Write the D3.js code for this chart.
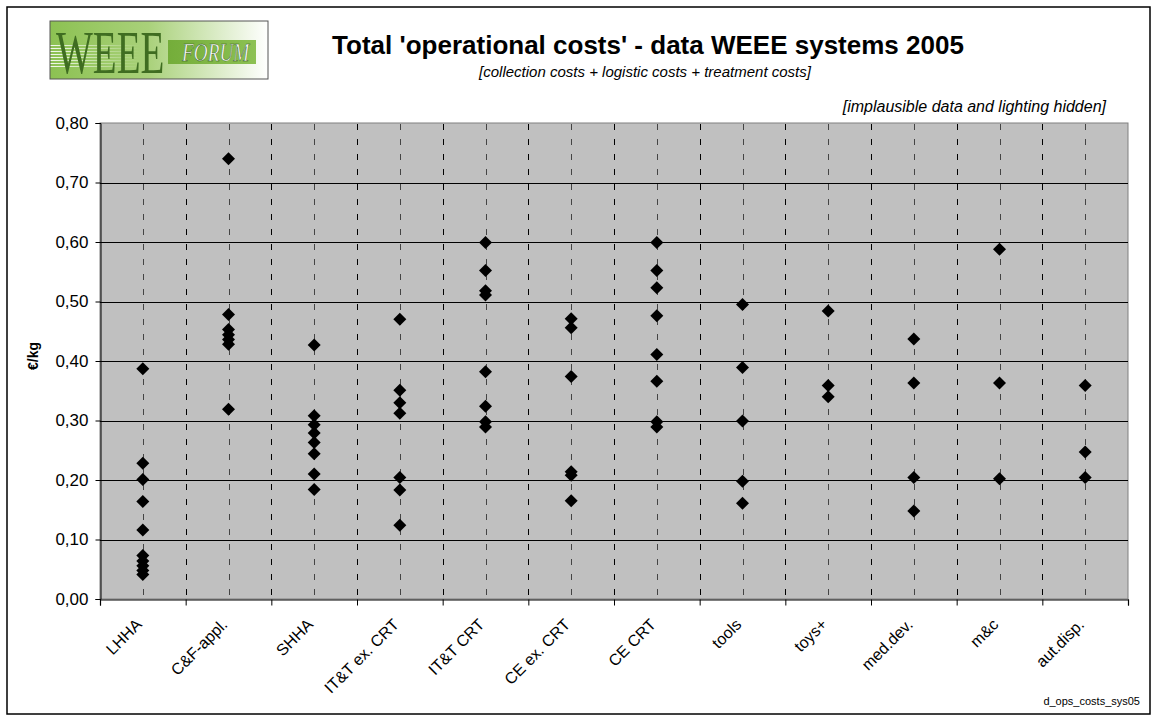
<!DOCTYPE html>
<html>
<head>
<meta charset="utf-8">
<script src="https://cdn.jsdelivr.net/npm/d3@7"></script>
<style>
  body { margin: 0; background: #fff; }
  svg { display: block; font-family: "Liberation Sans", Arial, sans-serif; }
</style>
</head>
<body>
<svg id="chart" width="1157" height="721"></svg>
<script>
// categories on the x axis
var categories = ["LHHA", "C&F-appl.", "SHHA", "IT&T ex. CRT", "IT&T CRT", "CE ex. CRT",
                  "CE CRT", "tools", "toys+", "med.dev.", "m&c", "aut.disp."];

// operational costs (EUR/kg) per system, one list per category
var lhha      = [0.387, 0.228, 0.201, 0.164, 0.116, 0.073, 0.064, 0.056, 0.048, 0.041];
var cfAppl    = [0.740, 0.478, 0.453, 0.444, 0.436, 0.428, 0.319];
var shha      = [0.427, 0.308, 0.293, 0.279, 0.263, 0.244, 0.210, 0.184];
var ittExCrt  = [0.470, 0.351, 0.330, 0.312, 0.204, 0.183, 0.124];
var ittCrt    = [0.599, 0.552, 0.518, 0.511, 0.382, 0.324, 0.298, 0.289];
var ceExCrt   = [0.471, 0.456, 0.374, 0.214, 0.208, 0.165];
var ceCrt     = [0.599, 0.552, 0.523, 0.476, 0.411, 0.366, 0.298, 0.289];
var tools     = [0.495, 0.389, 0.299, 0.198, 0.161];
var toys      = [0.484, 0.359, 0.340];
var medDev    = [0.437, 0.363, 0.204, 0.148];
var mc        = [0.588, 0.363, 0.202];
var autDisp   = [0.359, 0.247, 0.204];

var seriesValues = [lhha, cfAppl, shha, ittExCrt, ittCrt, ceExCrt, ceCrt, tools, toys, medDev, mc, autDisp];

// y axis ticks
var yTicks = [0, 0.1, 0.2, 0.3, 0.4, 0.5, 0.6, 0.7, 0.8];

var svg = d3.select("#chart");
var plot = { left: 100, right: 1128, top: 123, bottom: 599 };

var locale = d3.formatLocale({ decimal: ",", thousands: ".", grouping: [3], currency: ["", "€"] });
var fmt = locale.format(".2f");

// outer frame
svg.append("rect")
  .attr("x", 7).attr("y", 7)
  .attr("width", 1143).attr("height", 707)
  .attr("fill", "#fff")
  .attr("stroke", "#000")
  .attr("stroke-width", 1.5);

// ---- logo ----
var defs = svg.append("defs");
var grad = defs.append("linearGradient").attr("id", "logoGrad");
grad.append("stop").attr("offset", "0%").attr("stop-color", "#8cc152");
grad.append("stop").attr("offset", "45%").attr("stop-color", "#a9d17a");
grad.append("stop").attr("offset", "100%").attr("stop-color", "#ffffff");
var stripeGrad = defs.append("linearGradient").attr("id", "stripeGrad");
stripeGrad.append("stop").attr("offset", "0%").attr("stop-color", "#fff").attr("stop-opacity", 0.9);
stripeGrad.append("stop").attr("offset", "100%").attr("stop-color", "#fff").attr("stop-opacity", 0);
var bandGrad = defs.append("linearGradient").attr("id", "bandGrad");
bandGrad.append("stop").attr("offset", "0%").attr("stop-color", "#74ad3a");
bandGrad.append("stop").attr("offset", "100%").attr("stop-color", "#8cc152");

var logo = svg.append("g").attr("transform", "translate(50,21)");
logo.append("rect").attr("width", 218).attr("height", 58).attr("fill", "url(#logoGrad)");
// faint horizontal stripes on the left
d3.range(8).forEach(function(i) {
  logo.append("rect")
    .attr("x", 0).attr("y", 24 + i * 3)
    .attr("width", 90).attr("height", 1)
    .attr("fill", "url(#stripeGrad)");
});
logo.append("rect")
  .attr("x", 118).attr("y", 19).attr("width", 88).attr("height", 24)
  .attr("fill", "url(#bandGrad)");
logo.append("text")
  .attr("transform", "translate(6,52) scale(0.63,1)")
  .attr("font-family", "'Liberation Serif', 'DejaVu Serif', serif")
  .attr("font-size", 62)
  .attr("fill", "#3f6d21")
  .text("WEEE");
logo.append("text")
  .attr("transform", "translate(132,40) scale(0.74,1)")
  .attr("font-family", "'Liberation Serif', 'DejaVu Serif', serif")
  .attr("font-style", "italic")
  .attr("font-size", 26)
  .attr("fill", "#fff")
  .attr("stroke", "#2f5a15")
  .attr("stroke-width", 0.5)
  .text("FORUM");
logo.append("rect").attr("width", 218).attr("height", 58)
  .attr("fill", "none").attr("stroke", "#555").attr("stroke-width", 1);

// ---- titles ----
svg.append("text")
  .attr("x", 648).attr("y", 54)
  .attr("text-anchor", "middle")
  .attr("font-weight", "bold")
  .attr("font-size", 26)
  .text("Total 'operational costs' - data WEEE systems 2005");
svg.append("text")
  .attr("x", 645).attr("y", 77)
  .attr("text-anchor", "middle")
  .attr("font-style", "italic")
  .attr("font-size", 15)
  .text("[collection costs + logistic costs + treatment costs]");
svg.append("text")
  .attr("x", 1106).attr("y", 112)
  .attr("text-anchor", "end")
  .attr("font-style", "italic")
  .attr("font-size", 16)
  .text("[implausible data and lighting hidden]");

// ---- scales ----
var x = d3.scaleBand().domain(categories).range([plot.left, plot.right]).padding(0);
var xEdge = d3.scaleLinear().domain([0, categories.length]).range([plot.left, plot.right]);
var y = d3.scaleLinear().domain([0, 0.8]).range([plot.bottom, plot.top]);

// plot background
svg.append("rect")
  .attr("x", plot.left).attr("y", plot.top)
  .attr("width", plot.right - plot.left).attr("height", plot.bottom - plot.top)
  .attr("fill", "#c0c0c0")
  .attr("stroke", "#808080")
  .attr("stroke-width", 1);

// horizontal gridlines
svg.append("g")
  .selectAll("line")
  .data(yTicks.filter(function(d) { return d > 0 && d < 0.8; }))
  .join("line")
  .attr("x1", plot.left).attr("x2", plot.right)
  .attr("y1", function(d) { return Math.round(y(d)) + 0.5; })
  .attr("y2", function(d) { return Math.round(y(d)) + 0.5; })
  .attr("stroke", "#000")
  .attr("stroke-width", 1);

// vertical dashed lines at category centres and boundaries
var halfSteps = d3.range(1, categories.length * 2).map(function(i) { return i / 2; });
svg.append("g")
  .selectAll("line")
  .data(halfSteps)
  .join("line")
  .attr("x1", function(d) { return Math.round(xEdge(d)) + 0.5; })
  .attr("x2", function(d) { return Math.round(xEdge(d)) + 0.5; })
  .attr("y1", plot.top + 1).attr("y2", plot.bottom)
  .attr("stroke", function(d) { return d % 1 === 0 ? "#000" : "#444"; })
  .attr("stroke-width", 1)
  .attr("stroke-dasharray", "6,9");

// y axis
var yAxis = svg.append("g")
  .attr("transform", "translate(" + (plot.left + 0.5) + ",0)")
  .call(d3.axisLeft(y).tickValues(yTicks).tickFormat(fmt).tickSize(5).tickPadding(7));
yAxis.selectAll("text").attr("font-size", 17).attr("font-family", "'Liberation Sans', Arial, sans-serif").attr("fill", "#000");
yAxis.selectAll("line").attr("stroke", "#000");
yAxis.select(".domain").attr("stroke", "#000");

svg.append("text")
  .attr("transform", "translate(38,356) rotate(-90)")
  .attr("text-anchor", "middle")
  .attr("font-weight", "bold")
  .attr("font-size", 14)
  .text("€/kg");

// x axis: ticks at category boundaries
var xTicksAxis = svg.append("g")
  .attr("transform", "translate(0," + (plot.bottom + 0.5) + ")")
  .call(d3.axisBottom(xEdge).tickValues(d3.range(categories.length + 1)).tickFormat("").tickSize(6));
xTicksAxis.selectAll("line").attr("stroke", "#000");
xTicksAxis.select(".domain").attr("stroke", "#000").attr("stroke-width", 1.2);

// x axis labels, rotated
var xLabels = svg.append("g")
  .attr("transform", "translate(0," + (plot.bottom + 0.5) + ")")
  .call(d3.axisBottom(x).tickSize(0).tickPadding(0));
xLabels.select(".domain").remove();
xLabels.selectAll("text")
  .attr("font-size", 16)
  .attr("font-family", "'Liberation Sans', Arial, sans-serif")
  .attr("fill", "#000")
  .attr("text-anchor", "end")
  .attr("dy", null)
  .attr("y", 0)
  .attr("transform", "translate(0,26) rotate(-45)");

// data points as diamonds
var diamond = "M0,-6.5L6.5,0L0,6.5L-6.5,0Z";
var pts = [];
seriesValues.forEach(function(vals, i) {
  vals.forEach(function(v) { pts.push({ cat: categories[i], value: v }); });
});
svg.append("g")
  .selectAll("path")
  .data(pts)
  .join("path")
  .attr("d", diamond)
  .attr("transform", function(d) {
    return "translate(" + (x(d.cat) + x.bandwidth() / 2) + "," + y(d.value) + ")";
  })
  .attr("fill", "#000");

// footer code
svg.append("text")
  .attr("x", 1140).attr("y", 705)
  .attr("text-anchor", "end")
  .attr("font-size", 11)
  .text("d_ops_costs_sys05");
</script>
</body>
</html>
